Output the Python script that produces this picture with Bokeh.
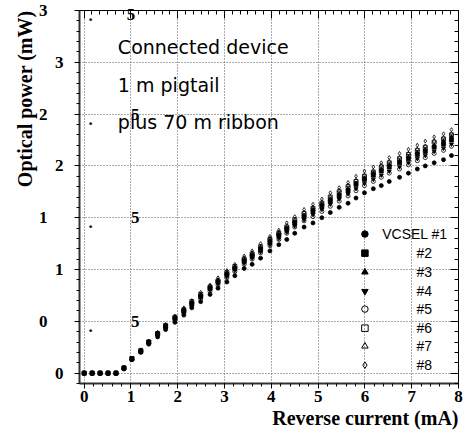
from bokeh.plotting import figure
from bokeh.models import (LinearAxis, Range1d, SingleIntervalTicker, FixedTicker, Label,
                          CustomJSTickFormatter, Title)
from bokeh.embed import file_html
from bokeh.resources import INLINE
from bokeh.core.properties import value

# ---------------- data ----------------
current = [0, 0.17, 0.34, 0.51, 0.68, 0.85, 1.02, 1.21, 1.38, 1.57, 1.74, 1.94, 2.13, 2.30,
           2.49, 2.69, 2.86, 3.05, 3.22, 3.42, 3.59, 3.77, 3.97, 4.16, 4.33, 4.50, 4.70, 4.89,
           5.08, 5.26, 5.45, 5.64, 5.81, 5.99, 6.18, 6.35, 6.52, 6.74, 6.93, 7.12, 7.29, 7.48,
           7.68, 7.85]

vcsel1 = [0, 0, 0, 0, 0, 0.04, 0.13, 0.20, 0.28, 0.35, 0.42, 0.49, 0.56, 0.63, 0.69, 0.76, 0.82,
          0.88, 0.94, 1.01, 1.05, 1.11, 1.18, 1.24, 1.29, 1.35, 1.41, 1.45, 1.50, 1.55, 1.60,
          1.64, 1.69, 1.74, 1.78, 1.81, 1.85, 1.89, 1.93, 1.97, 2.00, 2.03, 2.06, 2.10]
vcsel2 = [0, 0, 0, 0, 0, 0.05, 0.14, 0.21, 0.30, 0.38, 0.45, 0.53, 0.60, 0.67, 0.74, 0.82, 0.88,
          0.95, 1.01, 1.08, 1.13, 1.19, 1.26, 1.33, 1.39, 1.45, 1.51, 1.56, 1.61, 1.66, 1.71,
          1.76, 1.82, 1.87, 1.91, 1.95, 1.99, 2.03, 2.07, 2.11, 2.14, 2.18, 2.21, 2.25]
vcsel3 = [0, 0, 0, 0, 0, 0.05, 0.14, 0.22, 0.30, 0.38, 0.45, 0.54, 0.61, 0.68, 0.75, 0.82, 0.89,
          0.96, 1.02, 1.09, 1.14, 1.21, 1.28, 1.34, 1.40, 1.46, 1.52, 1.58, 1.63, 1.68, 1.73,
          1.78, 1.83, 1.88, 1.93, 1.97, 2.01, 2.05, 2.09, 2.13, 2.16, 2.20, 2.24, 2.28]
vcsel4 = [0, 0, 0, 0, 0, 0.05, 0.14, 0.21, 0.29, 0.37, 0.44, 0.52, 0.59, 0.66, 0.73, 0.80, 0.86,
          0.93, 0.99, 1.06, 1.11, 1.17, 1.24, 1.30, 1.36, 1.42, 1.48, 1.53, 1.58, 1.63, 1.68,
          1.73, 1.78, 1.83, 1.87, 1.91, 1.95, 1.99, 2.03, 2.07, 2.10, 2.14, 2.17, 2.21]
vcsel5 = [0, 0, 0, 0, 0, 0.05, 0.13, 0.21, 0.29, 0.37, 0.44, 0.51, 0.58, 0.65, 0.72, 0.79, 0.85,
          0.92, 0.98, 1.05, 1.10, 1.16, 1.23, 1.29, 1.35, 1.41, 1.47, 1.51, 1.56, 1.61, 1.66,
          1.71, 1.76, 1.81, 1.85, 1.89, 1.93, 1.97, 2.01, 2.05, 2.08, 2.12, 2.15, 2.19]
vcsel6 = [0, 0, 0, 0, 0, 0.05, 0.14, 0.22, 0.30, 0.38, 0.46, 0.54, 0.61, 0.69, 0.76, 0.83, 0.89,
          0.97, 1.03, 1.10, 1.15, 1.22, 1.29, 1.35, 1.41, 1.48, 1.54, 1.59, 1.64, 1.70, 1.75,
          1.80, 1.85, 1.90, 1.94, 1.99, 2.03, 2.07, 2.11, 2.15, 2.18, 2.23, 2.26, 2.30]
vcsel7 = [0, 0, 0, 0, 0, 0.05, 0.14, 0.22, 0.30, 0.39, 0.46, 0.54, 0.62, 0.69, 0.76, 0.84, 0.90,
          0.97, 1.03, 1.11, 1.16, 1.22, 1.30, 1.36, 1.42, 1.48, 1.55, 1.60, 1.65, 1.70, 1.76,
          1.81, 1.86, 1.91, 1.95, 2.00, 2.04, 2.08, 2.12, 2.16, 2.19, 2.24, 2.27, 2.31]
vcsel8 = [0, 0, 0, 0, 0, 0.05, 0.14, 0.22, 0.31, 0.39, 0.47, 0.55, 0.63, 0.70, 0.78, 0.85, 0.92,
          0.99, 1.05, 1.13, 1.18, 1.25, 1.32, 1.38, 1.45, 1.51, 1.58, 1.63, 1.68, 1.74, 1.79,
          1.84, 1.90, 1.95, 1.99, 2.03, 2.08, 2.12, 2.16, 2.20, 2.24, 2.28, 2.31, 2.35]

series_labels = ["VCSEL #1", "#2", "#3", "#4", "#5", "#6", "#7", "#8"]
y_ticks = [0, 0.5, 1.0, 1.5, 2.0, 2.5, 3.0, 3.5]
y_tick_labels = ["0", "0", "1", "1", "2", "2", "3", "3"]
note_lines = ["Connected device", "1 m pigtail", "plus 70 m ribbon"]
x_title = "Reverse current (mA)"
y_title = "Optical power (mW)"

series = [vcsel1, vcsel2, vcsel3, vcsel4, vcsel5, vcsel6, vcsel7, vcsel8]

# ---------------- styles / layout ----------------
markers = ["circle", "square", "triangle", "inverted_triangle",
           "circle", "square", "triangle", "diamond"]
filled = [True, True, True, True, False, False, False, False]
SERIF = "Liberation Serif"
Y0, Y1 = -0.1, 3.5

p = figure(width=467, height=431, x_range=Range1d(-0.1, 8.0), y_range=Range1d(Y0, Y1),
           output_backend="svg", toolbar_location=None,
           min_border_left=79, min_border_right=9, min_border_top=10, min_border_bottom=48)
p.background_fill_color = "white"
p.border_fill_color = "white"
p.outline_line_color = "black"
p.outline_line_width = 1

# grid
for g in (p.xgrid[0], p.ygrid[0]):
    g.grid_line_color = "#555555"
    g.grid_line_dash = "1 2"
    g.grid_line_width = 1

# bottom axis
xax = p.xaxis[0]
xax.ticker = SingleIntervalTicker(interval=1, num_minor_ticks=5)
xax.major_tick_out = 5
xax.major_tick_in = 0
xax.minor_tick_out = 3
xax.minor_tick_in = 0
xax.major_label_standoff = 2
xax.major_label_text_font = SERIF
xax.major_label_text_font_style = "bold"
xax.major_label_text_font_size = "17px"
xax.major_label_text_color = "black"
xax.axis_line_width = 2
xax.axis_line_color = "#333333"

# inner left axis: integer labels + all tick marks
half_overrides = {t: (lab if float(t).is_integer() else "") for t, lab in zip(y_ticks, y_tick_labels)}
yax = p.yaxis[0]
yax.ticker = SingleIntervalTicker(interval=0.5, num_minor_ticks=5)
yax.major_label_overrides = half_overrides
yax.major_tick_out = 5
yax.major_tick_in = 0
yax.minor_tick_out = 3
yax.minor_tick_in = 0
yax.major_label_standoff = 11
yax.major_label_text_font = SERIF
yax.major_label_text_font_style = "bold"
yax.major_label_text_font_size = "17px"
yax.major_label_text_color = "black"
yax.axis_line_width = 2
yax.axis_line_color = "#333333"

# outer left axis: labels of the half ticks
half_ticks = [t for t in y_ticks if not float(t).is_integer()]
outer = LinearAxis(ticker=FixedTicker(ticks=half_ticks, minor_ticks=[]),
                   major_label_overrides={t: lab for t, lab in zip(y_ticks, y_tick_labels)
                                          if not float(t).is_integer()},
                   axis_line_color=None, major_tick_line_color=None, minor_tick_line_color=None,
                   major_tick_out=0, major_tick_in=0, minor_tick_out=0, minor_tick_in=0,
                   major_label_standoff=4,
                   major_label_text_font=SERIF, major_label_text_font_style="bold",
                   major_label_text_font_size="17px", major_label_text_color="black")
p.add_layout(outer, "left")

# axis titles, aligned to the axis ends
p.add_layout(Title(text=y_title, align="right", text_font=SERIF, text_font_style="bold",
                   text_font_size="20px", text_color="black", standoff=0, offset=0), "left")
p.add_layout(Title(text=x_title, align="right", text_font=SERIF, text_font_style="bold",
                   text_font_size="20px", text_color="black", standoff=0, offset=0), "below")

blank = CustomJSTickFormatter(code="return '';")

# right axis (ticks inside)
rax = LinearAxis(ticker=SingleIntervalTicker(interval=0.5, num_minor_ticks=5),
                 major_tick_in=8, major_tick_out=0, minor_tick_in=4, minor_tick_out=0,
                 formatter=blank, major_label_standoff=0,
                 axis_line_color="black")
p.add_layout(rax, "right")

# top axis (ticks inside); carries the stray "5" of the top half-tick label
tax = LinearAxis(ticker=SingleIntervalTicker(interval=1, num_minor_ticks=6),
                 major_tick_in=8, major_tick_out=0, minor_tick_in=4, minor_tick_out=0,
                 formatter=blank, major_label_overrides={1: "5"}, major_label_standoff=-9,
                 major_label_text_font=SERIF, major_label_text_font_style="bold",
                 major_label_text_font_size="17px", major_label_text_color="black",
                 axis_line_color="black")
p.add_layout(tax, "above")

# data
for vals, mk, fl in zip(series, markers, filled):
    p.scatter(current, vals, marker=mk, size=4,
              fill_color="black" if fl else None, line_color="black", line_width=0.8)

# legend (drawn in data space, like the original)
legend_x = 6.0
legend_rows = [1.342, 1.158, 0.975, 0.79, 0.618, 0.434, 0.26, 0.077]
legend_text_x = [6.37] + [7.10] * 7
for lx_txt, ly, mk, fl, lab in zip(legend_text_x, legend_rows, markers, filled, series_labels):
    p.scatter([legend_x], [ly], marker=mk, size=6.5,
              fill_color="black" if fl else None, line_color="black", line_width=1)
    p.text([lx_txt], [ly], text=[lab], text_font=value("Liberation Sans"),
           text_font_size="14px", text_baseline="middle", text_align="left", text_color="black")

# annotation text
note_x = 0.72
note_y0 = 3.15
note_step = 0.365
for i, line in enumerate(note_lines):
    p.add_layout(Label(x=note_x, y=note_y0 - i * note_step, text=line,
                       text_font="DejaVu Sans", text_font_size="19px",
                       text_baseline="alphabetic", text_align="left", text_color="black"))

# stray pieces of the half-tick labels ("." and "5") as in the original
for t in half_ticks:
    p.add_layout(Label(x=0.14, y=t, y_offset=-5, text=".", text_font=SERIF,
                       text_font_style="bold", text_font_size="17px",
                       text_baseline="alphabetic", text_align="center", text_color="black"))
    if t < Y1:
        p.add_layout(Label(x=1.0, y=t, text="5",
                           text_font=SERIF, text_font_style="bold", text_font_size="17px",
                           text_baseline="middle", text_align="left", text_color="black"))

open("out.html", "w").write(file_html(p, INLINE))
